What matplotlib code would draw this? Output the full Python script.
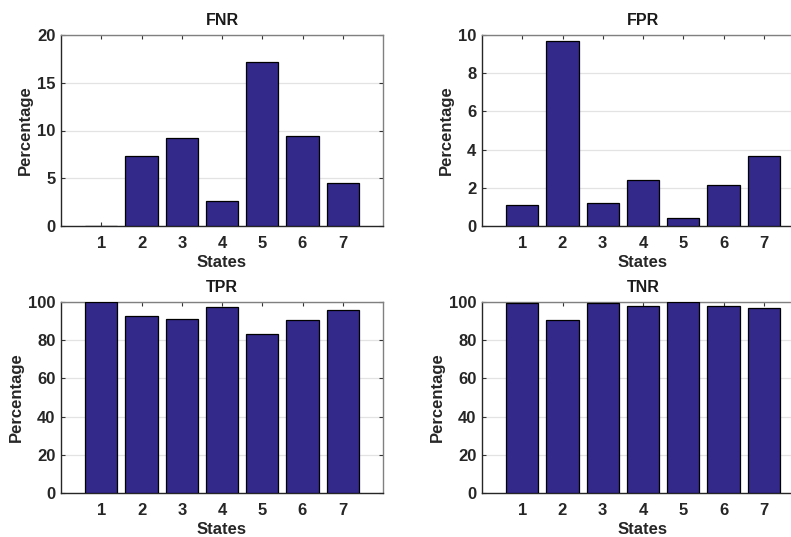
import numpy as np
import matplotlib
matplotlib.use('Agg')
import matplotlib.pyplot as plt

plt.rcParams['font.family'] = ['Liberation Sans', 'DejaVu Sans']
plt.rcParams['font.weight'] = 'bold'

states = [1, 2, 3, 4, 5, 6, 7]
fnr = [0.05, 7.36, 9.18, 2.62, 17.14, 9.42, 4.47]
fpr = [1.12, 9.69, 1.19, 2.41, 0.40, 2.16, 3.66]
tpr = [99.95, 92.7, 90.9, 97.4, 83.0, 90.7, 95.9]
tnr = [99.3, 90.5, 99.5, 98.0, 99.8, 97.9, 96.6]

panels = [('FNR', fnr, 20, [0, 5, 10, 15, 20]),
          ('FPR', fpr, 10, [0, 2, 4, 6, 8, 10]),
          ('TPR', tpr, 100, [0, 20, 40, 60, 80, 100]),
          ('TNR', tnr, 100, [0, 20, 40, 60, 80, 100])]

W, H = 791, 537
fig = plt.figure(figsize=(W / 100, H / 100), dpi=100)

# axes boxes in pixels: left, top
boxes = [(61, 35), (482, 35), (61, 302), (482, 302)]
aw, ah = 322, 191

bar_color = '#33298a'

for (title, vals, ymax, yt), (x0, y0) in zip(panels, boxes):
    ax = fig.add_axes([x0 / W, 1 - (y0 + ah) / H, aw / W, ah / H])
    ax.bar(states, vals, width=0.8, color=bar_color, edgecolor='black', linewidth=0.9, zorder=3)
    ax.set_xlim(0, 8)
    ax.set_ylim(0, ymax)
    ax.set_xticks(states)
    ax.set_yticks(yt)
    ax.yaxis.grid(True, color='#e3e3e3', linewidth=0.9, zorder=0)
    ax.set_axisbelow(True)
    ax.tick_params(direction='in', top=True, right=True, length=3, labelsize=12,
                   width=0.8, color='#333333')
    ax.tick_params(axis='x', pad=7)
    ax.tick_params(axis='y', pad=4)
    for lab in ax.get_xticklabels() + ax.get_yticklabels():
        lab.set_fontweight('bold')
        lab.set_color('#262626')
    for side in ['left', 'bottom']:
        ax.spines[side].set_color('#262626')
        ax.spines[side].set_linewidth(1.0)
    for side in ['top', 'right']:
        ax.spines[side].set_color('#808080')
        ax.spines[side].set_linewidth(1.0)
    ax.set_title(title, fontsize=11.5, fontweight='bold', pad=7, color='#1a1a1a')
    ax.set_xlabel('States', fontsize=12, fontweight='bold', labelpad=3, color='#262626')
    ax.set_ylabel('Percentage', fontsize=12, fontweight='bold', labelpad=3, color='#262626')

fig.savefig('out.png', dpi=100)
